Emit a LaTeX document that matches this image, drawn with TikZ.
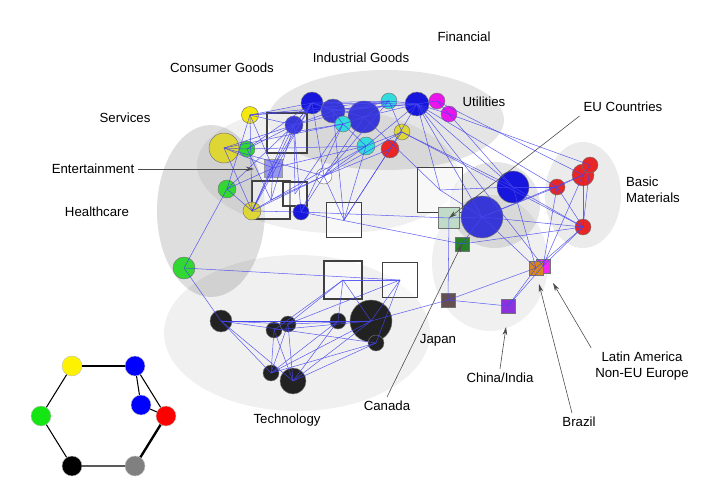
\documentclass[tikz,border=0pt]{standalone}
\usepackage{fontspec}
\setmainfont{Liberation Sans}
\usepackage{xcolor}
\usetikzlibrary{arrows.meta}

\definecolor{fblue}{RGB}{22,22,220}
\definecolor{fblueb}{RGB}{55,55,215}
\definecolor{fyellow}{RGB}{222,214,52}
\definecolor{fgreen}{RGB}{50,215,50}
\definecolor{fcyan}{RGB}{50,220,220}
\definecolor{fmagenta}{RGB}{235,20,235}
\definecolor{fred}{RGB}{232,38,38}
\definecolor{fblack}{RGB}{34,34,34}
\definecolor{flav}{RGB}{150,150,235}
\definecolor{linkblue}{RGB}{70,70,240}
\definecolor{ceu}{RGB}{192,220,200}
\definecolor{cca}{RGB}{40,130,40}
\definecolor{cla}{RGB}{240,40,240}
\definecolor{cbr}{RGB}{215,135,30}
\definecolor{cjp}{RGB}{100,80,80}
\definecolor{cci}{RGB}{140,50,220}
\definecolor{kgreen}{RGB}{20,230,20}

\tikzset{
  sector/.style={fill=black, fill opacity=#1},
  firm/.style 2 args={circle, draw=black!55, fill=#1, minimum size=#2*0.03cm, inner sep=0pt},
  country/.style={rectangle, draw=black!55, fill=#1, minimum size=14*0.03cm, inner sep=0pt},
  cluster/.style={rectangle, draw=black!75, line width=1.1pt, fill=white, fill opacity=0.5, minimum size=#1*0.03cm, inner sep=0pt},
  link/.style={draw=linkblue, line width=0.45pt, opacity=0.85},
  callout/.style={-{Stealth[length=7pt,width=4pt]}, black!70, line width=0.5pt},
  key/.style={circle, draw=black!25, fill=#1, minimum size=20*0.03cm, inner sep=0pt},
}

\begin{document}
\begin{tikzpicture}[x=0.03cm, y=-0.03cm, font=\fontsize{11.3}{13.5}\selectfont]
    \useasboundingbox (0,0) rectangle (722,504);

    % Sector regions
    \fill[sector=0.10] (386,120) ellipse [x radius=118, y radius=50];
    \fill[sector=0.06, rotate around={-3:(328,170)}] (328,170) ellipse [x radius=131, y radius=63];
    \fill[sector=0.13] (211,211) ellipse [x radius=54, y radius=86];
    \fill[sector=0.06] (297,333) ellipse [x radius=133, y radius=78];
    \fill[sector=0.06] (490,263) ellipse [x radius=58, y radius=68];
    \fill[sector=0.10] (495,205) ellipse [x radius=45, y radius=43];
    \fill[sector=0.08] (583,195) ellipse [x radius=38, y radius=53];

    % Clusters
    \node[cluster=40] (q1) at (287,133) {};
    \node[cluster=38] (q2) at (271,200) {};
    \node[cluster=24] (q3) at (295,194) {};
    \node[cluster=35] (q4) at (344,220) {};
    \node[cluster=45] (q5) at (440,190) {};
    \node[cluster=38] (q6) at (343,280) {};
    \node[cluster=35] (q7) at (400,280) {};

    % Consumer goods, services, healthcare
    \node[firm={yellow!95!black}{17}] (y1) at (250,115) {};
    \node[firm={fyellow}{30}] (y2) at (224,148) {};
    \node[firm={fgreen}{16}] (g1) at (247,149) {};
    \node[firm={fgreen}{18}] (g2) at (227,189) {};
    \node[firm={fyellow}{18}] (y3) at (252,211) {};
    \node[firm={fblue}{16}] (b5) at (301,212) {};
    \node[firm={fblueb}{18}] (b4) at (294,125) {};
    \node[firm={white}{16}] (w1) at (324,176) {};
    \node[rectangle, draw=black!40, fill=flav, minimum size=18*0.03cm, inner sep=0pt] (lav) at (273,168) {};

    % Industrial goods, financial, utilities
    \node[firm={fblue}{22}] (b1) at (312,103) {};
    \node[firm={fblueb}{24}] (b2) at (333,111) {};
    \node[firm={fblueb}{32}] (b3) at (364,117) {};
    \node[firm={fcyan}{16}] (c1) at (389,101) {};
    \node[firm={fcyan}{16}] (c2) at (343,124) {};
    \node[firm={fblue}{24}] (b6) at (417,104) {};
    \node[firm={fmagenta}{16}] (m1) at (437,101) {};
    \node[firm={fmagenta}{16}] (m2) at (449,114) {};
    \node[firm={fyellow}{16}] (y4) at (402,132) {};
    \node[firm={fcyan}{18}] (c3) at (366,146) {};
    \node[firm={fred}{18}] (r1) at (390,149) {};

    % EU, basic materials
    \node[firm={fblue}{32}] (b7) at (513,187) {};
    \node[firm={fblueb}{42}] (b8) at (482,217) {};
    \node[firm={fred}{16}] (r2) at (557,187) {};
    \node[firm={fred}{22}] (r3) at (583,175) {};
    \node[firm={fred}{16}] (r4) at (590,165) {};
    \node[firm={fred}{16}] (r5) at (583,227) {};

    % Countries
    \node[country=ceu, minimum size=21*0.03cm] (sqEU) at (449,218) {};
    \node[country=cca] (sqCA) at (462,244) {};
    \node[country=cla] (sqLA) at (543,266) {};
    \node[country=cbr] (sqBR) at (536,268) {};
    \node[country=cjp] (sqJP) at (448,300) {};
    \node[country=cci] (sqCI) at (508,306) {};

    % Technology
    \node[firm={fgreen}{22}] (g3) at (184,268) {};
    \node[firm={fblack}{22}] (k1) at (221,321) {};
    \node[firm={fblack}{16}] (k2) at (274,330) {};
    \node[firm={fblack}{16}] (k3) at (288,324) {};
    \node[firm={fblack}{16}] (k4) at (338,321) {};
    \node[firm={fblack}{42}] (k5) at (371,321) {};
    \node[firm={fblack}{16}] (k6) at (376,343) {};
    \node[firm={fblack}{16}] (k7) at (271,373) {};
    \node[firm={fblack}{26}] (k8) at (293,381) {};

    % Links
    \draw[link] (y1.center) edge (b1.center) edge (c1.center) edge (b6.center) edge (b4.center)
        edge (y3.center) edge (g2.center) edge (lav.center);
    \draw[link] (y2.center) edge (g1.center) edge (lav.center) edge (b4.center) edge (y3.center)
        edge (c2.center) edge (w1.center);
    \draw[link] (g1.center) edge (b4.center) edge (b1.center) edge (c3.center) edge (q2.center);
    \draw[link] (g2.center) edge (b4.center) edge (y3.center) edge (g3.center) edge (lav.center);
    \draw[link] (y3.center) edge (b4.center) edge (b1.center) edge (b5.center) edge (w1.center)
        edge (c3.center) edge (q1.center) edge (lav.center);
    \draw[link] (b5.center) edge (b4.center) edge (c2.center) edge (w1.center) edge (sqEU.center)
        edge (sqCA.center);
    \draw[link] (b4.center) edge (b1.center) edge (b2.center) edge (c1.center) edge (q3.center)
        edge (q2.center);
    \draw[link] (w1.center) edge (c3.center) edge (r1.center) edge (y4.center) edge (c1.center)
        edge (b1.center) edge (q4.center) edge (b3.center) edge (q2.center);
    \draw[link] (q4.center) edge (r1.center) edge (c3.center) edge (b2.center);
    \draw[link] (lav.center) edge (b1.center) edge (c3.center) edge (q2.center);
    \draw[link] (q1.center) edge (b1.center) edge (c2.center);
    \draw[link] (q3.center) edge (c2.center);
    \draw[link] (b1.center) edge (b2.center) edge (b3.center) edge (c1.center) edge (b6.center);
    \draw[link] (b2.center) edge (c1.center) edge (b6.center) edge (c2.center);
    \draw[link] (b3.center) edge (c1.center) edge (b6.center) edge (c2.center) edge (q5.center);
    \draw[link] (c1.center) edge (b6.center) edge (y4.center);
    \draw[link] (b6.center) edge (m1.center) edge (m2.center) edge (c3.center) edge (r1.center)
        edge (q5.center) edge (b7.center) edge (b8.center) edge (sqLA.center) edge (r2.center);
    \draw[link] (m1.center) edge (m2.center) edge (r3.center);
    \draw[link] (m2.center) edge (r4.center) edge (b7.center);
    \draw[link] (c3.center) edge (y4.center) edge (c2.center);
    \draw[link] (r1.center) edge (y4.center) edge (q4.center);
    \draw[link] (y4.center) edge (b7.center) edge (r5.center);
    \draw[link] (q5.center) edge (b7.center) edge (b8.center);
    \draw[link] (b7.center) edge (r2.center) edge (r5.center) edge (sqBR.center);
    \draw[link] (b8.center) edge (r2.center) edge (r3.center) edge (r5.center) edge (sqEU.center)
        edge (sqCA.center) edge (sqBR.center);
    \draw[link] (r2.center) edge (r3.center) edge (r5.center) edge (sqLA.center);
    \draw[link] (r3.center) edge (r4.center) edge (r5.center) edge (sqLA.center);
    \draw[link] (r4.center) edge (r5.center);
    \draw[link] (r5.center) edge (sqBR.center) edge (sqLA.center) edge (sqCA.center);
    \draw[link] (sqJP.center) edge (sqEU.center) edge (sqBR.center) edge (sqCI.center) edge (k5.center);
    \draw[link] (sqCI.center) edge (sqBR.center) edge (sqLA.center);
    \draw[link] (g3.center) edge (k1.center) edge (q7.center);
    \draw[link] (k1.center) edge (k5.center) edge (k4.center) edge (k3.center) edge (k7.center)
        edge (k8.center) edge (k6.center);
    \draw[link] (k2.center) edge (k5.center) edge (k7.center) edge (k8.center) edge (q6.center);
    \draw[link] (k3.center) edge (k5.center) edge (k7.center) edge (k8.center) edge (q6.center)
        edge (q7.center);
    \draw[link] (k4.center) edge (k7.center) edge (k8.center) edge (q6.center);
    \draw[link] (k5.center) edge (k7.center) edge (k8.center) edge (q7.center) edge (q6.center);
    \draw[link] (k6.center) edge (k7.center) edge (k8.center) edge (q7.center);
    \draw[link] (q6.center) edge (q7.center);

    % Labels
    \node (financial) at (464,37) {Financial};
    \node (industrial) at (361,58) {Industrial Goods};
    \node (consumer) at (222,68) {Consumer Goods};
    \node (utilities) at (484,102) {Utilities};
    \node (services) at (125,118) {Services};
    \node (eu) at (623,107) {EU Countries};
    \node (entertainment) at (93,169) {Entertainment};
    \node[anchor=west, align=left] (basic) at (622,190) {Basic\\Materials};
    \node (healthcare) at (97,212) {Healthcare};
    \node (japan) at (438,340) {Japan};
    \node (china) at (500,378) {China/India};
    \node[align=center] (latam) at (642,366) {Latin America\\Non-EU Europe};
    \node (canada) at (387,406) {Canada};
    \node (brazil) at (579,422) {Brazil};
    \node (technology) at (287,420) {Technology};

    % Callouts
    \coordinate (entTip) at (254,169);
    \coordinate (chinaTip) at (506,327);
    \coordinate (brazilTip) at (539,284);
    \coordinate (latamTip) at (553,283);
    \draw[callout] (entertainment.east) -- (entTip);
    \draw[callout] (eu.south west) -- (sqEU.center);
    \draw[callout] (canada.north) -- (sqCA.center);
    \draw[callout] (china.north) -- (chinaTip);
    \draw[callout] ([xshift=-6]brazil.north) -- (brazilTip);
    \draw[callout] (latam.north west) -- (latamTip);

    % Key
    \node[key=yellow] (ky) at (72,366) {};
    \node[key=blue] (kb) at (135,366) {};
    \node[key=blue] (kbb) at (141,405) {};
    \node[key=red] (kr) at (166,416) {};
    \node[key=kgreen] (kg) at (41,416) {};
    \node[key=black] (kk) at (72,466) {};
    \node[key=gray] (kgr) at (135,466) {};
    \draw[line width=2pt] (ky) -- (kb);
    \draw[line width=2pt] (kgr) -- (kr);
    \draw[line width=0.9pt] (ky) -- (kg) (kg) -- (kk) (kk) -- (kgr) (kr) -- (kb) (kb) -- (kbb) (kbb) -- (kr);
\end{tikzpicture}
\end{document}
